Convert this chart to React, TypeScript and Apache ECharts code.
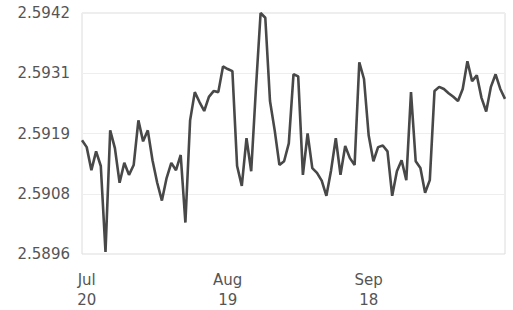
import React, { useEffect, useRef } from "react";
import * as echarts from "echarts";

// Daily values, Jul 19 .. Oct 17
const startDate = "2012-07-19";
const values: number[] = [
  2.59177, 2.59164, 2.5912, 2.59156, 2.59128, 2.58964, 2.59196, 2.59162, 2.59096, 2.59134,
  2.59111, 2.5913, 2.59215, 2.59175, 2.59196, 2.59139, 2.59096, 2.59062, 2.59105, 2.59134,
  2.5912, 2.59149, 2.5902, 2.59215, 2.59269, 2.5925, 2.59233, 2.5926, 2.59271, 2.59269,
  2.59318, 2.59313, 2.59309, 2.59128, 2.5909, 2.59181, 2.59118, 2.59275, 2.5942, 2.59411,
  2.59252, 2.59196, 2.5913, 2.59137, 2.59171, 2.59303, 2.59299, 2.59111, 2.5919, 2.59124,
  2.59115, 2.591, 2.59071, 2.5912, 2.59181, 2.59111, 2.59166, 2.59143, 2.5913, 2.59326,
  2.59294, 2.59186, 2.59137, 2.59164, 2.59167, 2.59156, 2.59071, 2.59118, 2.59139, 2.59101,
  2.59269, 2.59137, 2.59124, 2.59077, 2.59101, 2.59271, 2.59279, 2.59275, 2.59267, 2.5926,
  2.59252, 2.59275, 2.59328, 2.5929, 2.59301, 2.59258, 2.59232, 2.59279, 2.59303, 2.59275,
  2.59256,
];

const yTickValues = [2.5896, 2.59075, 2.5919, 2.59305, 2.5942];
const yTickLabels = ["2.5896", "2.5908", "2.5919", "2.5931", "2.5942"];
const xLabelDates = ["2012-07-20", "2012-08-19", "2012-09-18"];
const xLabelTexts = ["Jul\n20", "Aug\n19", "Sep\n18"];

function buildCategories(): string[] {
  const out: string[] = [];
  const d0 = new Date(startDate + "T00:00:00Z");
  for (let i = 0; i < values.length; i++) {
    const d = new Date(d0.getTime() + i * 86400000);
    out.push(d.toISOString().slice(0, 10));
  }
  return out;
}

export default function App() {
  const ref = useRef<HTMLDivElement>(null);
  useEffect(() => {
    if (!ref.current) return;
    const chart = echarts.init(ref.current, null, { renderer: "svg" });
    const categories = buildCategories();
    chart.setOption({
      animation: false,
      backgroundColor: "#ffffff",
      grid: {
        left: 82,
        right: 8,
        top: 13,
        bottom: 53,
        show: true,
        borderColor: "#dcdcdc",
        borderWidth: 1,
      },
      xAxis: {
        type: "category",
        data: categories,
        boundaryGap: false,
        axisLine: { show: false },
        axisTick: { show: false },
        splitLine: { show: false },
        axisLabel: {
          interval: (index: number, value: string) => xLabelDates.includes(value),
          formatter: (value: string) => {
            const k = xLabelDates.indexOf(value);
            return k >= 0 ? xLabelTexts[k] : "";
          },
          color: "#555555",
          fontFamily: "DejaVu Sans",
          fontSize: 15,
          lineHeight: 20,
          margin: 16,
        },
      },
      yAxis: {
        type: "value",
        min: 2.5896,
        max: 2.5942,
        axisLine: { show: false },
        axisTick: { show: false, customValues: yTickValues },
        splitLine: { show: true, lineStyle: { color: "#eeeeee", width: 1 } },
        axisLabel: {
          customValues: yTickValues,
          formatter: (v: number) => {
            let best = 0;
            for (let i = 1; i < yTickValues.length; i++) {
              if (Math.abs(yTickValues[i] - v) < Math.abs(yTickValues[best] - v)) best = i;
            }
            return yTickLabels[best];
          },
          color: "#555555",
          fontFamily: "DejaVu Sans",
          fontSize: 15,
          margin: 12,
        },
      },
      series: [
        {
          type: "line",
          data: values,
          symbol: "none",
          lineStyle: { color: "#484848", width: 2.6 },
        },
      ],
    });
    return () => chart.dispose();
  }, []);
  return (
    <div
      ref={ref}
      style={{ position: "absolute", left: 0, top: 0, width: 513, height: 310 }}
    />
  );
}
